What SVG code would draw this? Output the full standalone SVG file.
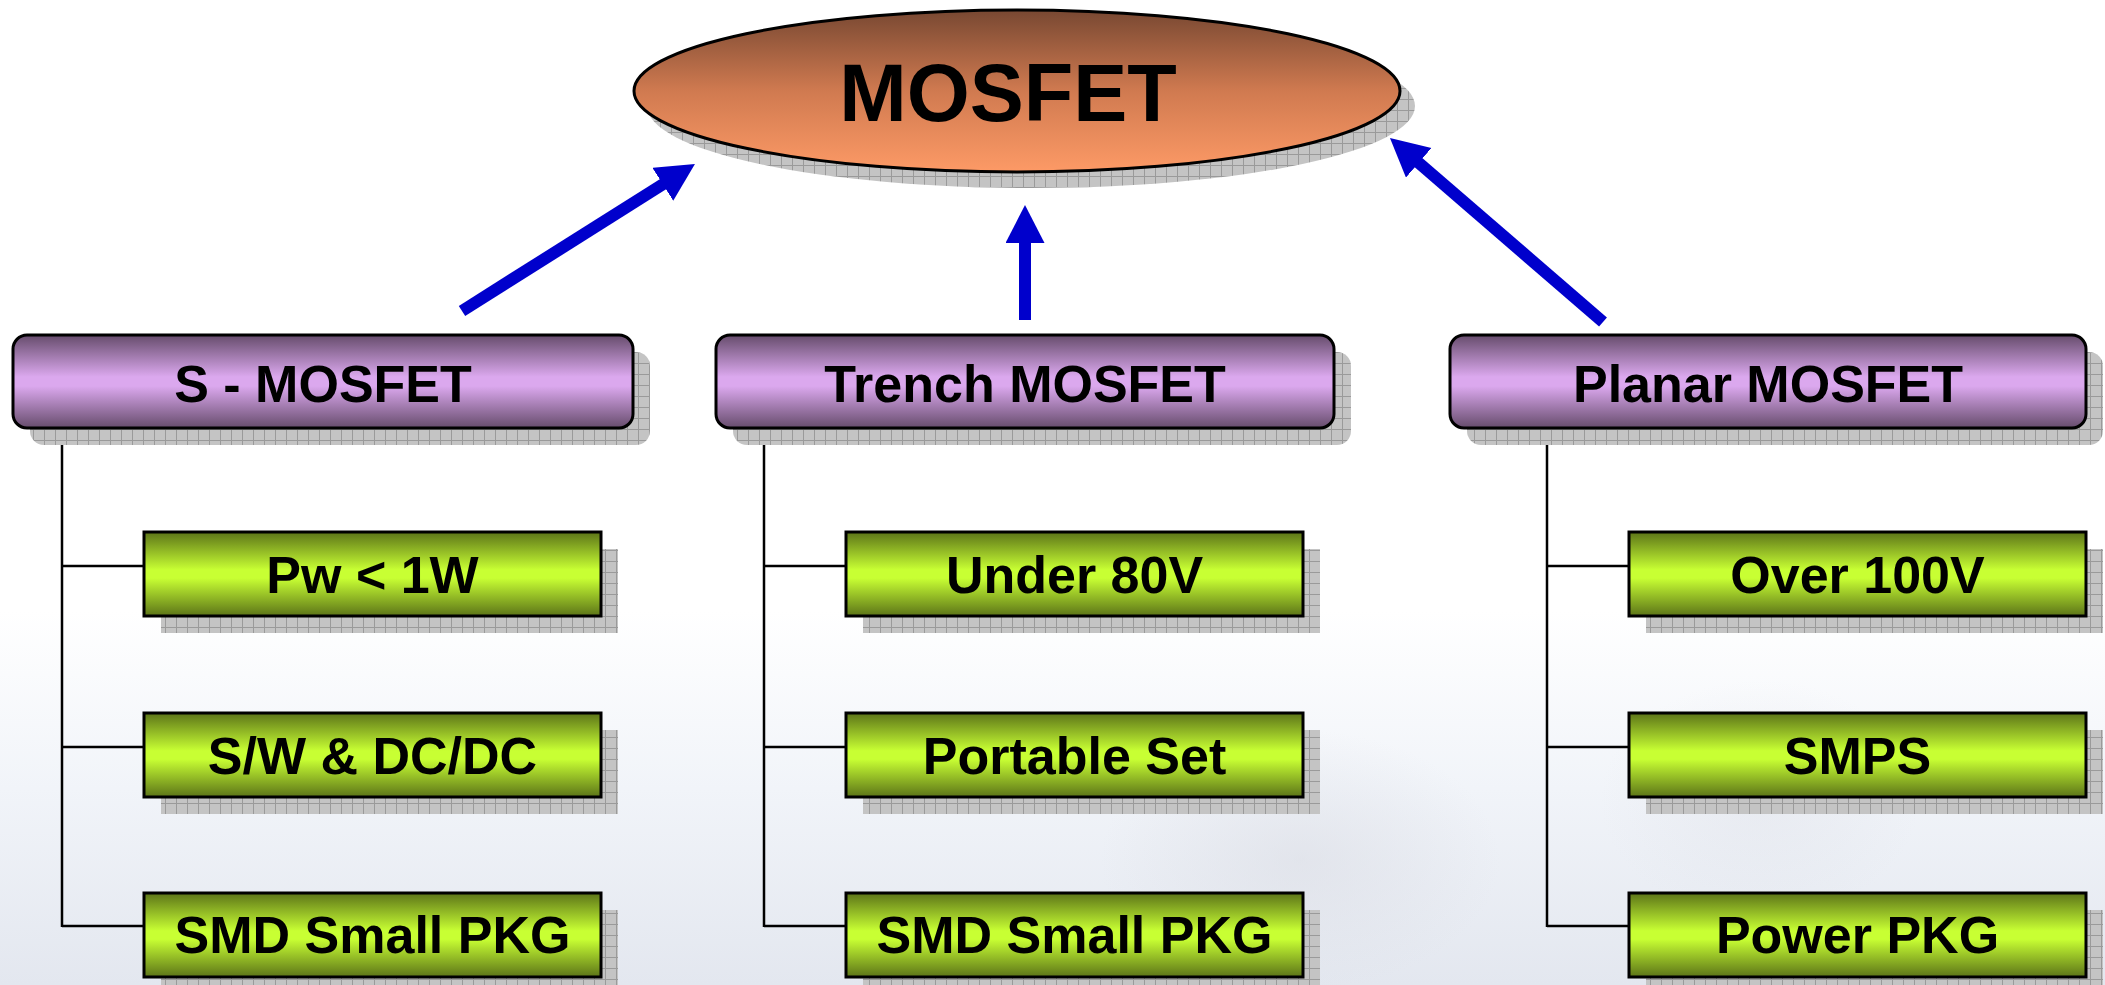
<svg xmlns="http://www.w3.org/2000/svg" width="2105" height="985" viewBox="0 0 2105 985">
<defs>
<linearGradient id="bg" x1="0" y1="0" x2="0" y2="1">
<stop offset="0" stop-color="#ffffff"/>
<stop offset="0.62" stop-color="#ffffff"/>
<stop offset="0.8" stop-color="#f1f4f9"/>
<stop offset="1" stop-color="#e3e7ef"/>
</linearGradient>
<radialGradient id="blob" cx="0.5" cy="0.5" r="0.5">
<stop offset="0" stop-color="#d8dae2" stop-opacity="0.5"/>
<stop offset="1" stop-color="#d8dae2" stop-opacity="0"/>
</radialGradient>
<linearGradient id="ell" x1="0" y1="0" x2="0" y2="1">
<stop offset="0" stop-color="#784832"/>
<stop offset="0.5" stop-color="#d07a50"/>
<stop offset="1" stop-color="#fd9a66"/>
</linearGradient>
<linearGradient id="pur" x1="0" y1="0" x2="0" y2="1">
<stop offset="0" stop-color="#664c6c"/>
<stop offset="0.45" stop-color="#dba8ee"/>
<stop offset="0.55" stop-color="#dba8ee"/>
<stop offset="1" stop-color="#664c6c"/>
</linearGradient>
<linearGradient id="grn" x1="0" y1="0" x2="0" y2="1">
<stop offset="0" stop-color="#5c7418"/>
<stop offset="0.45" stop-color="#c8ff33"/>
<stop offset="0.55" stop-color="#c8ff33"/>
<stop offset="1" stop-color="#5c7418"/>
</linearGradient>
<pattern id="hatch" width="11" height="11" patternUnits="userSpaceOnUse">
<rect width="11" height="11" fill="#c4c4c4"/>
<path d="M0,0.5 H11 M0.5,0 V11" stroke="#9a9a9a" stroke-width="1" fill="none"/>
</pattern>
<marker id="ah" markerUnits="userSpaceOnUse" markerWidth="40" markerHeight="40" refX="2" refY="19.5" orient="auto">
<path d="M0,0 L38,19.5 L0,39 z" fill="#0000cc"/>
</marker>
</defs>
<style>
.sh{fill:url(#hatch)}
.pb{fill:url(#pur);stroke:#000;stroke-width:3}
.gb{fill:url(#grn);stroke:#000;stroke-width:3}
.t{font-family:"Liberation Sans",Arial,sans-serif;font-weight:bold;fill:#000;text-anchor:middle}
.t1{font-size:52px}
.arr{stroke:#0000cc;stroke-width:12;fill:none;marker-end:url(#ah)}
.tree{stroke:#000;stroke-width:2.5;fill:none}
</style>
<rect width="2105" height="985" fill="url(#bg)"/>
<ellipse cx="1300" cy="860" rx="200" ry="130" fill="url(#blob)"/>
<ellipse cx="1760" cy="800" rx="160" ry="120" fill="url(#blob)" opacity="0.6"/>

<g id="connectors">
<line class="arr" x1="462" y1="311" x2="664.5" y2="183.2"/>
<line class="arr" x1="1025" y1="320" x2="1025" y2="241"/>
<line class="arr" x1="1603" y1="322" x2="1417.2" y2="161.5"/>
<path class="tree" d="M62,428 V927 M62,566 H144 M62,747 H144 M62,926 H144"/>
<path class="tree" d="M764,428 V927 M764,566 H846 M764,747 H846 M764,926 H846"/>
<path class="tree" d="M1547,428 V927 M1547,566 H1629 M1547,747 H1629 M1547,926 H1629"/>
</g>

<g id="mosfet">
<ellipse class="sh" cx="1031" cy="106" rx="384" ry="82"/>
<ellipse cx="1017" cy="91" rx="383" ry="81" fill="url(#ell)" stroke="#000" stroke-width="3"/>
<text class="t" x="1008" y="121" font-size="81">MOSFET</text>
</g>

<g id="s-mosfet">
<rect class="sh" x="30" y="352" width="620" height="93" rx="14"/>
<rect class="pb" x="13" y="335" width="620" height="93" rx="14"/>
<text class="t t1" x="323" y="401.5">S - MOSFET</text>
</g>
<g id="trench-mosfet">
<rect class="sh" x="733" y="352" width="618" height="93" rx="14"/>
<rect class="pb" x="716" y="335" width="618" height="93" rx="14"/>
<text class="t t1" x="1025" y="401.5">Trench MOSFET</text>
</g>
<g id="planar-mosfet">
<rect class="sh" x="1467" y="352" width="636" height="93" rx="14"/>
<rect class="pb" x="1450" y="335" width="636" height="93" rx="14"/>
<text class="t t1" x="1768" y="401.5">Planar MOSFET</text>
</g>

<g id="s1">
<rect class="sh" x="161" y="549" width="457" height="84"/>
<rect class="gb" x="144" y="532" width="457" height="84"/>
<text class="t t1" x="372.5" y="593">Pw &lt; 1W</text>
</g>
<g id="s2">
<rect class="sh" x="161" y="730" width="457" height="84"/>
<rect class="gb" x="144" y="713" width="457" height="84"/>
<text class="t t1" x="372.5" y="774">S/W &amp; DC/DC</text>
</g>
<g id="s3">
<rect class="sh" x="161" y="910" width="457" height="84"/>
<rect class="gb" x="144" y="893" width="457" height="84"/>
<text class="t t1" x="372.5" y="953">SMD Small PKG</text>
</g>

<g id="t1">
<rect class="sh" x="863" y="549" width="457" height="84"/>
<rect class="gb" x="846" y="532" width="457" height="84"/>
<text class="t t1" x="1074.5" y="593">Under 80V</text>
</g>
<g id="t2">
<rect class="sh" x="863" y="730" width="457" height="84"/>
<rect class="gb" x="846" y="713" width="457" height="84"/>
<text class="t t1" x="1074.5" y="774">Portable Set</text>
</g>
<g id="t3">
<rect class="sh" x="863" y="910" width="457" height="84"/>
<rect class="gb" x="846" y="893" width="457" height="84"/>
<text class="t t1" x="1074.5" y="953">SMD Small PKG</text>
</g>

<g id="p1">
<rect class="sh" x="1646" y="549" width="457" height="84"/>
<rect class="gb" x="1629" y="532" width="457" height="84"/>
<text class="t t1" x="1857.5" y="593">Over 100V</text>
</g>
<g id="p2">
<rect class="sh" x="1646" y="730" width="457" height="84"/>
<rect class="gb" x="1629" y="713" width="457" height="84"/>
<text class="t t1" x="1857.5" y="774">SMPS</text>
</g>
<g id="p3">
<rect class="sh" x="1646" y="910" width="457" height="84"/>
<rect class="gb" x="1629" y="893" width="457" height="84"/>
<text class="t t1" x="1857.5" y="953">Power PKG</text>
</g>
</svg>
